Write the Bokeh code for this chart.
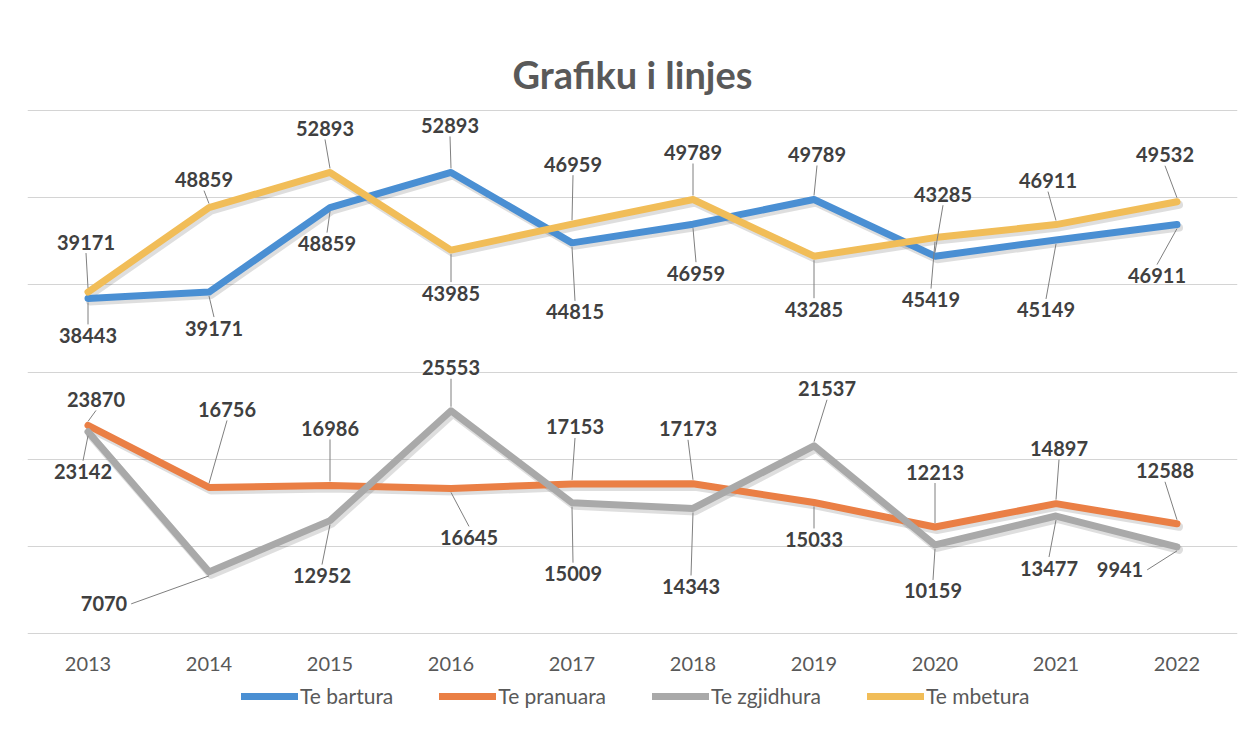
from bokeh.plotting import figure
from bokeh.models import (ColumnDataSource, Range1d, FixedTicker, Legend, LegendItem)
from bokeh.core.properties import value
from bokeh.embed import file_html
from bokeh.resources import INLINE

# ---------------- data ----------------
years = ["2013", "2014", "2015", "2016", "2017", "2018", "2019", "2020", "2021", "2022"]
te_bartura = [38443, 39171, 48859, 52893, 44815, 46959, 49789, 43285, 45149, 46911]
te_pranuara = [23870, 16756, 16986, 16645, 17153, 17173, 15033, 12213, 14897, 12588]
te_zgjidhura = [23142, 7070, 12952, 25553, 15009, 14343, 21537, 10159, 13477, 9941]
te_mbetura = [39171, 48859, 52893, 43985, 46959, 49789, 43285, 45419, 46911, 49532]
series_names = ["Te bartura", "Te pranuara", "Te zgjidhura", "Te mbetura"]
y_ticks = [0, 10000, 20000, 30000, 40000, 50000, 60000]

# ---------------- styling ----------------
colors = ["#4A8FD3", "#EA7F45", "#A9A9A9", "#F1BD58"]
# label offsets in screen pixels (dx right, dy down) per series / point
label_dx = [
    [0, 5, -3, -1, 3, 3, 3, 8, -10, -20],
    [8, 18, 0, 18, 3, -5, 0, 0, 3, -12],
    [-5, -105, -8, 0, 1, -2, 13, -2, -7, -57],
    [-2, -5, -5, 0, 1, 0, 0, -4, -8, -12],
]
label_dy = [
    [37, 36, 36, -47, 69, 49, -45, -62, 70, 51],
    [-26, -78, -57, 49, -57, -55, 37, -55, -55, -53],
    [40, 32, 55, -43, 71, 78, -57, 46, 52, 23],
    [-50, -28, -44, 43, -60, -47, 53, 62, -44, -47],
]

W, H = 1244, 726
LEFT, RIGHT, TOP, BOTTOM = 27, 7, 108, 10
PLOT_PX = 523          # pixels between 0 and 60000
BELOW_PX = 83          # pixels of frame below y=0 (axis labels + legend)
frame_w = W - LEFT - RIGHT
YMAX = y_ticks[-1]
px_x = frame_w / len(years)      # pixels per x unit
uy = YMAX / PLOT_PX              # data units per pixel (y)

p = figure(width=W, height=H, output_backend="svg", toolbar_location=None,
           x_range=Range1d(-0.5, len(years) - 0.5),
           y_range=Range1d(-BELOW_PX * uy, YMAX + 2 * uy),
           y_axis_location=None, min_border_left=LEFT, min_border_right=RIGHT,
           min_border_top=TOP, min_border_bottom=BOTTOM,
           title="Grafiku i linjes")
p.outline_line_color = None
p.background_fill_color = "white"
p.border_fill_color = "white"
p.xgrid.visible = False
p.ygrid.visible = False

p.title.align = "center"
p.title.text_font = "Lato"
p.title.text_font_size = "38px"
p.title.text_font_style = "bold"
p.title.text_color = "#595959"
p.title.standoff = 24

# horizontal gridlines
p.hspan(y=y_ticks, line_color="#D4D4D4", line_width=1, level="underlay")

ax = p.xaxis[0]
ax.fixed_location = 0
ax.ticker = FixedTicker(ticks=list(range(len(years))))
ax.major_label_overrides = {i: y for i, y in enumerate(years)}
ax.axis_line_color = None
ax.major_tick_line_color = None
ax.minor_tick_line_color = None
ax.major_label_text_font = "Lato"
ax.major_label_text_font_size = "20px"
ax.major_label_text_color = "#595959"
ax.major_label_standoff = 17

xs = list(range(len(years)))
all_series = [te_bartura, te_pranuara, te_zgjidhura, te_mbetura]

# shadows
for vals in all_series:
    p.line([x + 2 / px_x for x in xs], [v - 3 * uy for v in vals],
           line_width=8, line_color="black", line_alpha=0.13,
           line_join="round", line_cap="round")

renderers = []
for vals, c in zip(all_series, colors):
    r = p.line(xs, vals, line_width=7, line_color=c, line_join="round", line_cap="round")
    renderers.append(r)

# leader lines and data labels
lx0, ly0, lx1, ly1 = [], [], [], []
tx, ty, tt, tdx, tdy = [], [], [], [], []
for s, vals in enumerate(all_series):
    for i, v in enumerate(vals):
        dx, dy = label_dx[s][i], label_dy[s][i]
        txt = str(v)
        hw = len(txt) * 5.8 + 4
        if abs(dx) > 45:
            sx = dx + hw if dx < 0 else dx - hw
            sy = dy
        else:
            sx = dx
            sy = dy - 11 if dy > 0 else dy + 11
        ex, ey = 0, (4 if dy > 0 else -4)
        lx0.append(i + sx / px_x); ly0.append(v - sy * uy)
        lx1.append(i + ex / px_x); ly1.append(v - ey * uy)
        tx.append(i); ty.append(v); tt.append(txt); tdx.append(dx); tdy.append(dy)

p.segment(lx0, ly0, lx1, ly1, line_color="#7F7F7F", line_width=1)

src = ColumnDataSource(dict(x=tx, y=ty, t=tt, dx=tdx, dy=tdy))
p.text(x="x", y="y", text="t", x_offset="dx", y_offset="dy", source=src,
       text_font=value("Lato"), text_font_size="20px", text_font_style="bold",
       text_color="#404040", text_align="center", text_baseline="middle")

legend = Legend(items=[LegendItem(label=n, renderers=[r]) for n, r in zip(series_names, renderers)],
                orientation="horizontal", location=(214, 8),
                glyph_width=57, glyph_height=20, label_standoff=2, spacing=46,
                label_text_font="Lato", label_text_font_size="21px",
                label_text_color="#595959", border_line_color=None,
                background_fill_alpha=0, padding=4, margin=0)
p.add_layout(legend, "center")

open("out.html", "w").write(file_html(p, INLINE))
